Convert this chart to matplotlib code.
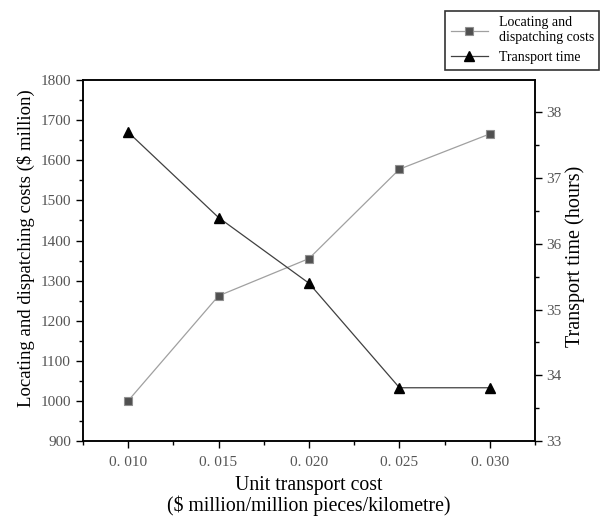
import matplotlib
matplotlib.use("Agg")
import matplotlib.pyplot as plt
from matplotlib.ticker import MultipleLocator, FixedLocator

plt.rcParams['font.family'] = ['Liberation Serif', 'DejaVu Serif']

unit_cost = [0.010, 0.015, 0.020, 0.025, 0.030]
cost_labels = ["0. 010", "0. 015", "0. 020", "0. 025", "0. 030"]
locating_costs = [1000, 1262, 1355, 1578, 1666]
transport_time = [37.70, 36.40, 35.40, 33.81, 33.81]

fig = plt.figure(figsize=(6.0, 5.17), dpi=100)
ax = fig.add_axes([0.138, 0.147, 0.754, 0.698])
ax2 = ax.twinx()

l1, = ax.plot(unit_cost, locating_costs, color='#a0a0a0', lw=0.9, marker='s',
              markersize=5.5, markerfacecolor='#505050', markeredgecolor='#909090',
              markeredgewidth=0.8, label='Locating and\ndispatching costs', zorder=3)
l2, = ax2.plot(unit_cost, transport_time, color='#404040', lw=0.9, marker='^',
               markersize=7.5, markerfacecolor='black', markeredgecolor='black',
               label='Transport time', zorder=3)

ax.set_xlim(0.0075, 0.0325)
ax.set_ylim(900, 1800)
ax2.set_ylim(33, 38.49)

ax.xaxis.set_major_locator(FixedLocator(unit_cost))
ax.set_xticklabels(cost_labels)
ax.xaxis.set_minor_locator(MultipleLocator(0.0025))
ax.yaxis.set_major_locator(MultipleLocator(100))
ax.yaxis.set_minor_locator(MultipleLocator(50))
ax2.yaxis.set_major_locator(MultipleLocator(1))
ax2.yaxis.set_minor_locator(MultipleLocator(0.5))

for a in (ax, ax2):
    a.tick_params(which='major', direction='out', length=5, width=1, labelsize=11,
                  labelcolor='#555555', color='black')
    a.tick_params(which='minor', direction='out', length=3, width=1, color='black')
    for s in a.spines.values():
        s.set_linewidth(1.1)
ax.tick_params(axis='x', pad=6)
ax2.tick_params(axis='y', which='major', pad=3)

ax.set_xlabel('Unit transport cost\n($ million/million pieces/kilometre)', fontsize=14.2,
              labelpad=5, linespacing=1.03)
ax.set_ylabel('Locating and dispatching costs ($ million)', fontsize=13.5)
ax.yaxis.label.set_y(0.535)
ax2.set_ylabel('Transport time (hours)', fontsize=14.5, labelpad=3)
ax2.yaxis.label.set_y(0.512)

leg = fig.legend(handles=[l1, l2], loc='upper right', bbox_to_anchor=(0.999, 0.979),
                 borderaxespad=0, fontsize=10, frameon=True, fancybox=False,
                 edgecolor='black', handlelength=2.7, borderpad=0.4,
                 labelspacing=0.5, handletextpad=0.75)
leg.get_frame().set_linewidth(1.2)

fig.savefig('out.png', dpi=100)
